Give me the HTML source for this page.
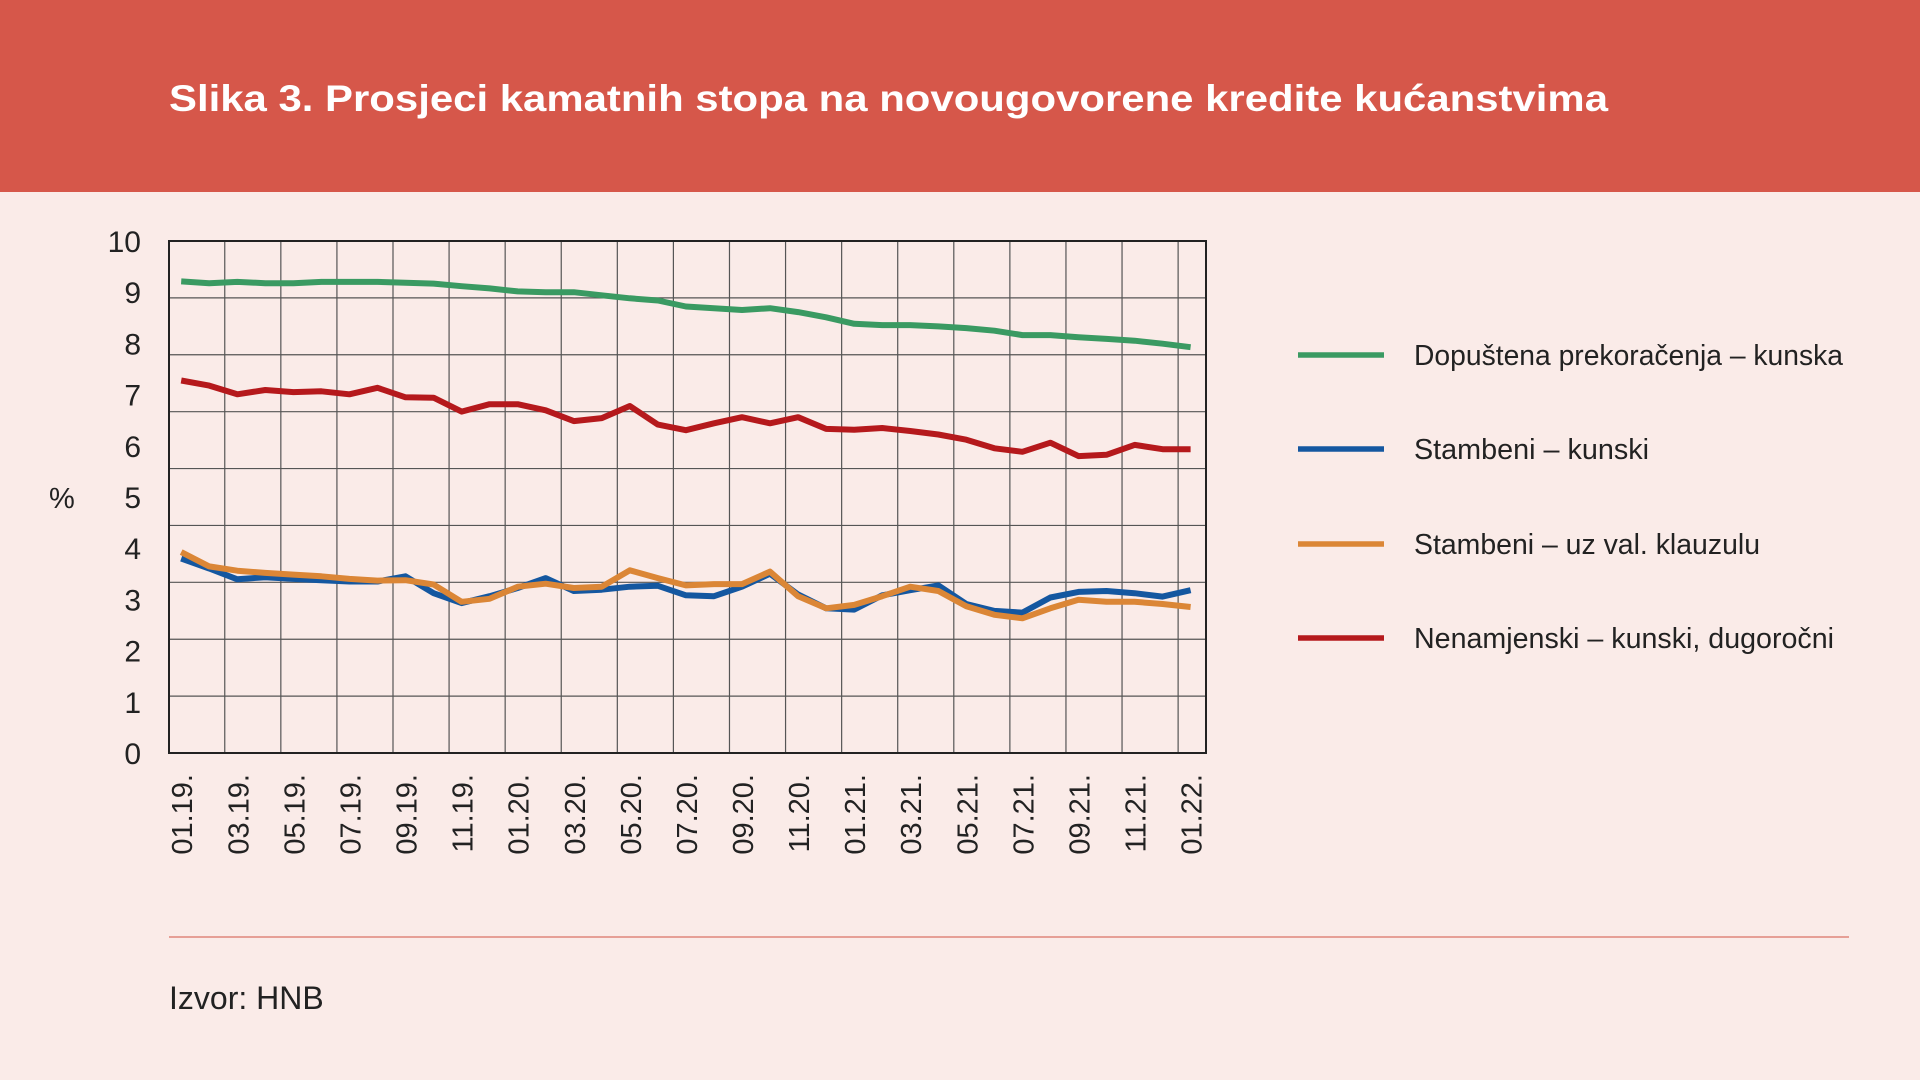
<!DOCTYPE html>
<html><head><meta charset="utf-8"><style>
html,body{margin:0;padding:0;width:1920px;height:1080px;overflow:hidden;background:#FAEBE8;font-family:"Liberation Sans",sans-serif}
</style></head><body>
<svg id="s" width="1920" height="1080" viewBox="0 0 1920 1080" xmlns="http://www.w3.org/2000/svg">
<rect x="0" y="0" width="1920" height="1080" fill="#FAEBE8"/>
<rect x="0" y="0" width="1920" height="192" fill="#D6574A"/>
<text x="169" y="111" fill="#fff" font-family="Liberation Sans, sans-serif" font-weight="bold" font-size="37" textLength="1439" lengthAdjust="spacingAndGlyphs">Slika 3. Prosjeci kamatnih stopa na novougovorene kredite kućanstvima</text>
<g id="grid"></g>
<g id="series"></g>
<g id="labels" font-family="Liberation Sans, sans-serif" fill="#222"></g>
<text x="49" y="508" font-size="29" fill="#222">%</text>
<g stroke-width="5.5" fill="none">
<line x1="1298" y1="355" x2="1384" y2="355" stroke="#3A9A62"/>
<line x1="1298" y1="449" x2="1384" y2="449" stroke="#1457A0"/>
<line x1="1298" y1="544" x2="1384" y2="544" stroke="#DB8636"/>
<line x1="1298" y1="638" x2="1384" y2="638" stroke="#B5191C"/>
</g>
<g font-size="29" fill="#222" font-family="Liberation Sans, sans-serif">
<text x="1414" y="365" textLength="429" lengthAdjust="spacingAndGlyphs">Dopuštena prekoračenja – kunska</text>
<text x="1414" y="459" textLength="235" lengthAdjust="spacingAndGlyphs">Stambeni – kunski</text>
<text x="1414" y="554" textLength="346" lengthAdjust="spacingAndGlyphs">Stambeni – uz val. klauzulu</text>
<text x="1414" y="648" textLength="420" lengthAdjust="spacingAndGlyphs">Nenamjenski – kunski, dugoročni</text>
</g>
<line x1="169" y1="937" x2="1849" y2="937" stroke="#E0867A" stroke-width="1.5"/>
<text x="169" y="1009" font-size="32" fill="#222">Izvor: HNB</text>
</svg>
<script>
var NS="http://www.w3.org/2000/svg";
function el(p,t,a,txt){var e=document.createElementNS(NS,t);for(var k in a)e.setAttribute(k,a[k]);if(txt!=null)e.textContent=txt;p.appendChild(e);return e;}
var L=169,R=1206,T=241,B=753;
var g=document.getElementById('grid');
for(var k=1;k<9;k++){var y=T+(B-T)*k/9;el(g,'line',{x1:L,x2:R,y1:y,y2:y,stroke:'#555','stroke-width':1.2});}
function X(i){return 181.2+28.04*i;}
for(var k=0;k<18;k++){var x=X(1.5+2*k)+1.5;el(g,'line',{x1:x,x2:x,y1:T,y2:B,stroke:'#555','stroke-width':1.2});}
el(g,'rect',{x:L,y:T,width:R-L,height:B-T,fill:'none',stroke:'#222','stroke-width':2});
function Y(z){return (197+(z-91)/2.832)*1.2245;}
var green=[184,188,185,188,188,185,185,185,187,189,195,200,207,209,209,216,223,228,242,246,250,246,255,267,282,285,285,288,292,298,308,308,313,317,321,328,336];
var red=[413,425,445,435,440,438,445,430,452,453,485,468,468,482,507,500,472,515,528,512,498,512,498,525,527,523,530,538,550,570,578,557,588,585,562,572,572];
var blue=[825,848,873,868,872,875,878,878,866,905,928,912,893,870,900,897,890,888,910,912,890,860,908,940,943,910,898,887,930,946,950,915,902,900,905,913,898];
var orange=[810,843,853,858,862,866,872,876,875,885,925,918,890,883,893,890,852,870,887,884,884,855,912,940,932,912,890,900,935,955,963,940,920,925,925,930,937];
var s=document.getElementById('series');
[[green,'#3A9A62'],[red,'#B5191C'],[blue,'#1457A0'],[orange,'#DB8636']].forEach(function(p){
 var pts=p[0].map(function(z,i){return X(i).toFixed(1)+','+Y(z).toFixed(1);}).join(' ');
 el(s,'polyline',{points:pts,fill:'none',stroke:p[1],'stroke-width':6,'stroke-linejoin':'round'});
});
var lb=document.getElementById('labels');
for(var v=0;v<=10;v++){var y=B-v*51.2;el(lb,'text',{x:141,y:y+11,'font-size':30,'text-anchor':'end'},String(v));}
var mm=['01','03','05','07','09','11'];
for(var i=0;i<=36;i+=2){var m=mm[(i%12)/2];var yr=19+Math.floor(i/12);var x=X(i)+11;
 el(lb,'text',{x:0,y:0,'font-size':29,'text-anchor':'end',transform:'translate('+x+',774) rotate(-90)'},m+'.'+yr+'.');}
</script>
</body></html>
